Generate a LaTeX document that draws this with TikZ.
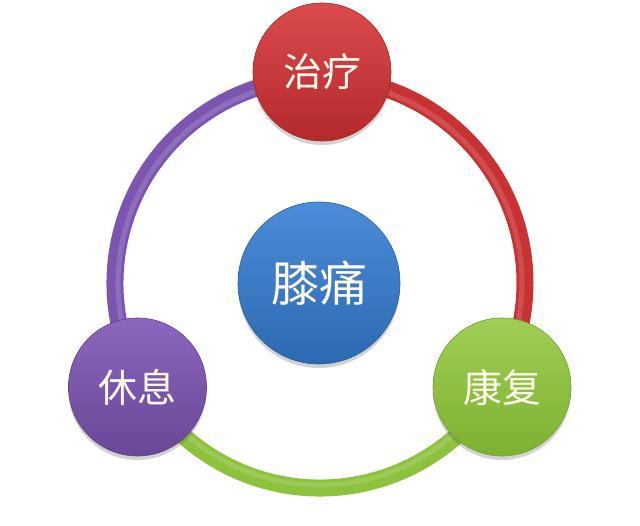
\documentclass[tikz,border=0pt]{standalone}
\usepackage{fontspec}
\newfontfamily\cjk{Noto Sans CJK SC}
\usetikzlibrary{shadows}
\definecolor{redT}{HTML}{DB4B4C}
\definecolor{redB}{HTML}{B3292B}
\definecolor{redR}{HTML}{C93233}
\definecolor{blueT}{HTML}{4C8CD8}
\definecolor{blueB}{HTML}{2C69B2}
\definecolor{purT}{HTML}{8B66BE}
\definecolor{purB}{HTML}{6A4797}
\definecolor{purR}{HTML}{7C55B0}
\definecolor{grnT}{HTML}{A0CE54}
\definecolor{grnB}{HTML}{7DB130}
\definecolor{grnR}{HTML}{8CC23C}
\definecolor{txt}{HTML}{FFFCEE}
\tikzset{
  ringseg/.style={line width=17pt},
  ringhi/.style={line width=5pt, opacity=0.14, white},
  disc/.style={circle, minimum size=138pt, inner sep=0pt, text=txt,
    font=\cjk\fontsize{39}{42}\selectfont,
    drop shadow={shadow xshift=0pt, shadow yshift=-4pt, opacity=0.25, fill=black!70}},
  bigdisc/.style={disc, minimum size=162pt, font=\cjk\fontsize{48}{52}\selectfont},
}
\begin{document}
\begin{tikzpicture}[x=1pt,y=1pt]
\useasboundingbox[fill=white] (0,0) rectangle (640,525);
\coordinate (O) at (320,242);
% ring
\draw[ringseg, purR] (O) ++(210:205pt) arc[start angle=210, end angle=90, radius=205pt];
\draw[ringseg, redR] (O) ++(90:205pt) arc[start angle=90, end angle=-30, radius=205pt];
\draw[ringseg, grnR] (O) ++(-30:205pt) arc[start angle=-30, end angle=-150, radius=205pt];
\draw[ringhi] (O) ++(210:202pt) arc[start angle=210, end angle=90, radius=202pt];
\draw[ringhi] (O) ++(90:202pt) arc[start angle=90, end angle=-30, radius=202pt];
\draw[ringhi] (O) ++(-30:202pt) arc[start angle=-30, end angle=-150, radius=202pt];
% discs
\node[bigdisc, top color=blueT, bottom color=blueB, draw=blueB!90!black, line width=0.6pt] (knee) at (319,242) {膝痛};
\node[disc, top color=redT, bottom color=redB, draw=redB!90!black, line width=0.6pt] (treat) at (322,453) {治疗};
\node[disc, top color=purT, bottom color=purB, draw=purB!90!black, line width=0.6pt] (rest) at (137.5,138) {休息};
\node[disc, top color=grnT, bottom color=grnB, draw=grnB!90!black, line width=0.6pt] (rehab) at (502,138) {康复};
\end{tikzpicture}
\end{document}
